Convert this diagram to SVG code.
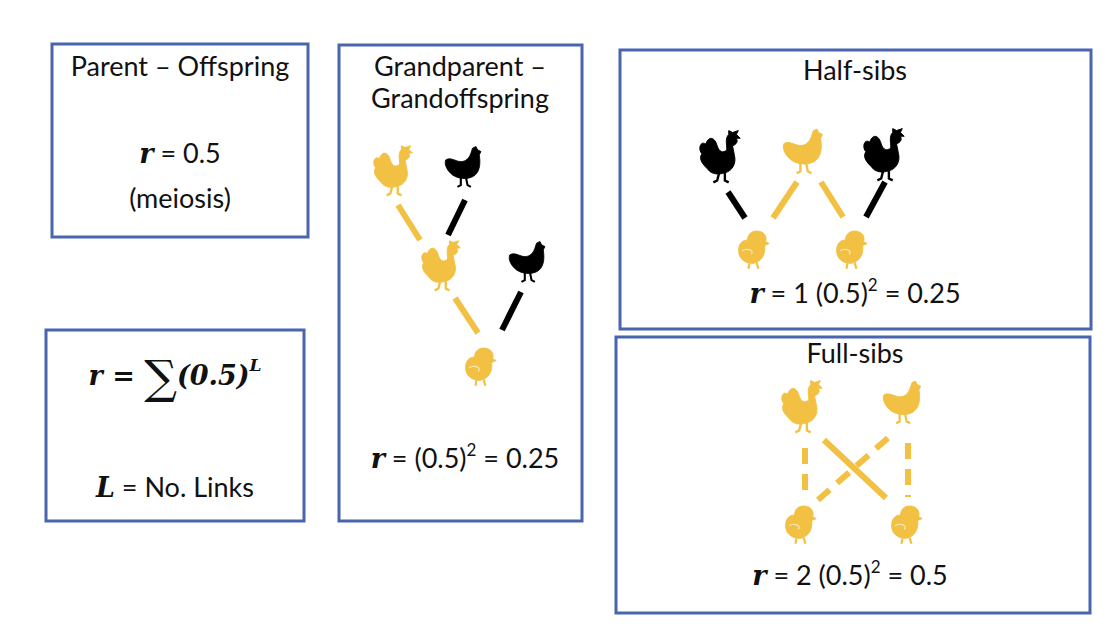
<svg xmlns="http://www.w3.org/2000/svg" xmlns:xlink="http://www.w3.org/1999/xlink" width="1110" height="634" viewBox="0 0 1110 634">
<style>
.box{fill:#fff;stroke:#4a65b0;stroke-width:3}
text{font-family:Lato,"Open Sans",sans-serif;font-size:27px;fill:#111;text-anchor:middle}
.m{font-family:"DejaVu Serif",serif;font-style:italic;font-weight:bold}
.y{stroke:#f2c144;stroke-width:6}
.k{stroke:#000;stroke-width:6}
.d{stroke-dasharray:16 10}
</style>
<defs>
<symbol id="rooster" viewBox="0 0 50 55" overflow="visible">
<path d="M8 14 C2 10 0 20 4 24 C0 30 6 36 10 40 C14 46 22 46 28 44 C36 42 40 34 38 26 L36 16 C40 14 42 12 40 8 L44 8 L40 4 L42 0 L36 2 L32 0 L32 4 C28 8 30 14 30 20 C26 24 22 22 20 16 C18 8 12 4 8 14 Z"/>
<path d="M22 44 L20 52 L16 54 M28 44 L28 52 L32 54" stroke="inherit" stroke-width="2.5" fill="none"/>
</symbol>
<symbol id="hen" viewBox="0 0 50 50" overflow="visible">
<path d="M2 16 C8 12 14 18 20 18 C26 18 30 14 32 8 L34 2 L38 0 L40 4 L44 6 L42 10 C44 22 42 32 34 36 C26 40 14 38 8 32 C4 28 0 22 2 16 Z"/>
<path d="M20 36 L20 46 L16 48 M26 36 L28 46 L32 48" stroke="inherit" stroke-width="2.5" fill="none"/>
</symbol>
<symbol id="chick" viewBox="0 0 40 44" overflow="visible">
<path d="M24 2 C32 2 36 8 34 14 L38 16 L33 18 C34 28 30 36 20 38 C10 38 4 32 4 24 C4 16 8 12 14 12 C14 6 18 2 24 2 Z"/>
<path d="M8 24 C14 20 22 24 18 28" stroke="#fff" stroke-width="1.2" fill="none" opacity="0.7"/>
<path d="M16 38 L15 44 M24 37 L26 44" stroke="inherit" stroke-width="2.5" fill="none"/>
</symbol>
</defs>

<g id="parent-offspring">
<rect class="box" x="52" y="44" width="256" height="193"/>
<text x="180" y="76">Parent – Offspring</text>
<text x="180" y="163"><tspan class="m">r</tspan> = 0.5</text>
<text x="180" y="208">(meiosis)</text>
</g>

<g id="formula">
<rect class="box" x="46" y="330" width="258" height="191"/>
<text x="175" y="385"><tspan class="m">r</tspan><tspan class="m" font-style="normal"> = </tspan><tspan font-size="46" font-family="DejaVu Serif,serif" dy="8">∑</tspan><tspan class="m" font-style="normal" dy="-8">(0.5)</tspan><tspan class="m" font-size="17" dy="-14">L</tspan></text>
<text x="175" y="497"><tspan class="m">L</tspan> = No. Links</text>
</g>

<g id="grandparent">
<rect class="box" x="339" y="45" width="243" height="476"/>
<text x="460" y="76">Grandparent –</text>
<text x="460" y="108">Grandoffspring</text>
<use href="#rooster" x="372" y="145" width="46" height="52" fill="#f2c144" stroke="#f2c144"/>
<use href="#hen" x="444" y="145" width="42" height="45" fill="#000" stroke="#000"/>
<use href="#rooster" x="420" y="240" width="46" height="52" fill="#f2c144" stroke="#f2c144"/>
<use href="#hen" x="508" y="240" width="42" height="45" fill="#000" stroke="#000"/>
<use href="#chick" x="462" y="345" width="36" height="42" fill="#f2c144" stroke="#f2c144"/>
<text x="465" y="468"><tspan class="m">r</tspan> = (0.5)<tspan font-size="17" dy="-12">2</tspan><tspan dy="12"> = 0.25</tspan></text>
</g>

<g id="half-sibs">
<rect class="box" x="620" y="50" width="471" height="279"/>
<text x="855" y="80">Half-sibs</text>
<use href="#rooster" x="698" y="130" width="48" height="54" fill="#000" stroke="#000"/>
<use href="#hen" x="782" y="128" width="46" height="48" fill="#f2c144" stroke="#f2c144"/>
<use href="#rooster" x="862" y="128" width="48" height="54" fill="#000" stroke="#000"/>
<use href="#chick" x="735" y="228" width="36" height="42" fill="#f2c144" stroke="#f2c144"/>
<use href="#chick" x="833" y="228" width="36" height="42" fill="#f2c144" stroke="#f2c144"/>
<text x="855" y="303"><tspan class="m">r</tspan> = 1 (0.5)<tspan font-size="17" dy="-12">2</tspan><tspan dy="12"> = 0.25</tspan></text>
</g>

<g id="full-sibs">
<rect class="box" x="616" y="337" width="474" height="276"/>
<text x="855" y="363">Full-sibs</text>
<use href="#rooster" x="780" y="380" width="48" height="54" fill="#f2c144" stroke="#f2c144"/>
<use href="#hen" x="882" y="380" width="44" height="46" fill="#f2c144" stroke="#f2c144"/>
<use href="#chick" x="782" y="503" width="36" height="42" fill="#f2c144" stroke="#f2c144"/>
<use href="#chick" x="888" y="503" width="36" height="42" fill="#f2c144" stroke="#f2c144"/>
<text x="850" y="585"><tspan class="m">r</tspan> = 2 (0.5)<tspan font-size="17" dy="-12">2</tspan><tspan dy="12"> = 0.5</tspan></text>
</g>

<g id="connectors">
<line class="y" x1="398" y1="205" x2="420" y2="240"/>
<line class="k" x1="465" y1="200" x2="448" y2="235"/>
<line class="y" x1="455" y1="298" x2="478" y2="333"/>
<line class="k" x1="521" y1="292" x2="502" y2="330"/>
<line class="k" x1="728" y1="192" x2="745" y2="218"/>
<line class="y" x1="797" y1="182" x2="773" y2="218"/>
<line class="y" x1="821" y1="182" x2="843" y2="217"/>
<line class="k" x1="885" y1="182" x2="866" y2="217"/>
<line class="y d" x1="805" y1="448" x2="805" y2="497"/>
<line class="y d" x1="908" y1="443" x2="908" y2="497"/>
<line class="y" x1="824" y1="440" x2="886" y2="498"/>
<line class="y d" x1="888" y1="438" x2="818" y2="500"/>
</g>
</svg>
